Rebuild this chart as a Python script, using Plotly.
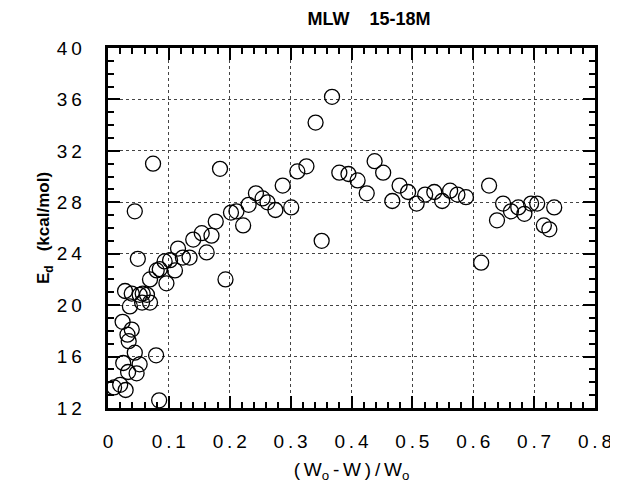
import plotly.graph_objects as go

x_vals = [0.010, 0.020, 0.029, 0.025, 0.033, 0.047, 0.052, 0.044, 0.079, 0.084,
          0.024, 0.039, 0.032, 0.034, 0.036, 0.028, 0.039, 0.052, 0.057, 0.064,
          0.069, 0.056, 0.069, 0.049, 0.044, 0.074,
          0.085, 0.096, 0.102, 0.110, 0.115, 0.123, 0.134, 0.140, 0.154, 0.162,
          0.170, 0.177, 0.193, 0.184, 0.202, 0.211, 0.222, 0.231, 0.243, 0.254,
          0.262, 0.275, 0.287, 0.301, 0.311, 0.326, 0.341, 0.368, 0.351, 0.380,
          0.395, 0.410, 0.425, 0.438, 0.452, 0.467, 0.479, 0.493, 0.507, 0.521,
          0.536, 0.549, 0.562, 0.574, 0.588, 0.613, 0.626, 0.639, 0.649, 0.662,
          0.674, 0.684, 0.695, 0.705, 0.716, 0.725, 0.733, 0.093, 0.080]
y_vals = [13.6, 13.8, 13.4, 15.5, 14.8, 14.7, 15.4, 16.3, 16.1, 12.6,
          18.7, 18.1, 17.7, 17.2, 19.9, 21.1, 20.9, 20.8, 20.9, 20.8,
          20.2, 20.2, 22.0, 23.6, 27.3, 31.0,
          22.8, 21.7, 23.5, 22.7, 24.4, 23.7, 23.7, 25.1, 25.6, 24.1,
          25.4, 26.5, 22.0, 30.6, 27.2, 27.3, 26.2, 27.8, 28.7, 28.3,
          28.0, 27.4, 29.3, 27.6, 30.4, 30.8, 34.2, 36.2, 25.0, 30.3,
          30.2, 29.7, 28.7, 31.2, 30.3, 28.1, 29.3, 28.8, 27.9, 28.6,
          28.8, 28.1, 28.9, 28.6, 28.4, 23.3, 29.3, 26.6, 27.9, 27.3,
          27.6, 27.1, 27.9, 27.9, 26.2, 25.9, 27.6, 23.4, 22.7]

x_ticks = [0, 0.1, 0.2, 0.3, 0.4, 0.5, 0.6, 0.7, 0.8]
x_ticklabels = ["0", "0.1", "0.2", "0.3", "0.4", "0.5", "0.6", "0.7", "0.8"]
y_ticks = [12, 16, 20, 24, 28, 32, 36, 40]
y_ticklabels = ["12", "16", "20", "24", "28", "32", "36", "40"]

SP = "\u2009"  # thin space to mimic the wide letter spacing of the original
NB = "\u00a0"


def spaced(s):
    return SP.join(list(s))


title_text = "MLW" + NB * 4 + "15-18M"
x_title = "(" + SP + "W<sub>o</sub>" + SP + "-" + SP + "W" + SP + ")" + SP + "/" + SP + "W<sub>o</sub>"
y_title = "<b>E<sub>d</sub>" + NB * 3 + "(kcal/mol)</b>"

font_family = "Liberation Sans, Arial, sans-serif"

fig = go.Figure(go.Scatter(
    x=x_vals, y=y_vals, mode="markers",
    marker=dict(symbol="circle-open", size=15, color="black", line=dict(width=1.3, color="black")),
    showlegend=False,
))

axis_common = dict(
    showline=True, linecolor="black", linewidth=2.5, mirror="ticks",
    ticks="inside", tickcolor="black", tickwidth=2,
    showgrid=True, gridcolor="#444444", gridwidth=1, griddash="dot",
    zeroline=False, automargin=False,
    tickfont=dict(family=font_family, size=19, color="black"),
)

fig.update_xaxes(
    range=[0, 0.8], tickvals=x_ticks, ticktext=[spaced(t) for t in x_ticklabels], ticklen=12,
    ticklabelstandoff=14,
    minor=dict(dtick=0.02, ticks="inside", ticklen=6, tickwidth=2, tickcolor="black", showgrid=False),
    title=dict(text=x_title, font=dict(family=font_family, size=19, color="black"), standoff=13),
    **axis_common,
)
fig.update_yaxes(
    range=[12, 40], tickvals=y_ticks,
    ticktext=[spaced(t) + NB * 3 + SP for t in y_ticklabels], ticklen=12,
    minor=dict(dtick=1, ticks="inside", ticklen=6, tickwidth=2, tickcolor="black", showgrid=False),
    title=dict(text=y_title, font=dict(family=font_family, size=17, color="black"), standoff=3),
    **axis_common,
)

fig.update_layout(
    width=610, height=482,
    margin=dict(l=100, r=23, t=40, b=82, autoexpand=False),
    paper_bgcolor="white", plot_bgcolor="white",
    title=dict(text="<b>" + title_text + "</b>", x=0.592, xanchor="center", y=0.978, yanchor="middle",
               font=dict(family=font_family, size=18, color="black")),
)

fig.write_html("out.html")
